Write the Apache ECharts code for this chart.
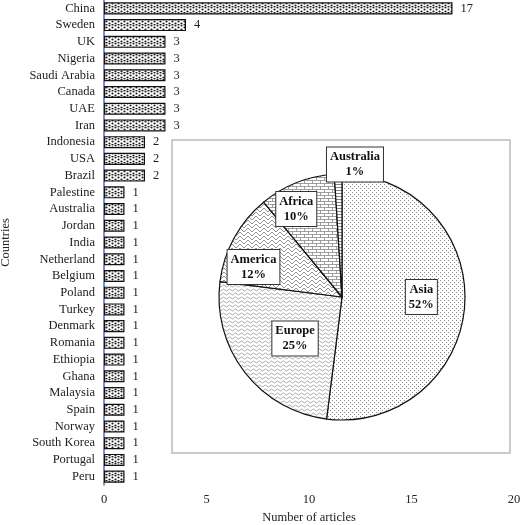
<!DOCTYPE html>
<html><head><meta charset="utf-8">
<script src="https://cdn.jsdelivr.net/npm/echarts@6/dist/echarts.min.js"></script>
<style>html,body{margin:0;padding:0;background:#fff}#c{width:520px;height:525px}</style>
</head><body><div id="c"></div>
<script>
const countries = ["China","Sweden","UK","Nigeria","Saudi Arabia","Canada","UAE","Iran","Indonesia","USA","Brazil","Palestine","Australia","Jordan","India","Netherland","Belgium","Poland","Turkey","Denmark","Romania","Ethiopia","Ghana","Malaysia","Spain","Norway","South Korea","Portugal","Peru"];
const articles = [17,4,3,3,3,3,3,3,2,2,2,1,1,1,1,1,1,1,1,1,1,1,1,1,1,1,1,1,1];
const regions = ["Asia","Europe","America","Africa","Australia"];
const regionPct = [52,25,12,10,1];
const xTicks = [0,5,10,15,20];

function pat(draw, w, h){
  const c=document.createElement('canvas');c.width=w;c.height=h;
  const g=c.getContext('2d');g.fillStyle='#fff';g.fillRect(0,0,w,h);g.fillStyle='#222';g.strokeStyle='#555';g.lineWidth=0.8;
  draw(g);return {image:c,repeat:'repeat'};
}
const dots = pat(g=>{[[1,1],[4,3],[1,5],[4,0]].forEach(([x,y])=>{g.beginPath();g.arc(x+0.5,y+0.5,1.1,0,7);g.fill();});},6,6);
const asiaP = pat(g=>{g.fillStyle='#888';[[0,0],[2,2]].forEach(([x,y])=>g.fillRect(x,y,1,1));},4,4);
const euroP = pat(g=>{g.strokeStyle='#999';g.beginPath();g.moveTo(0,2);g.quadraticCurveTo(1.5,0,3,2);g.quadraticCurveTo(4.5,4,6,2);g.stroke();},6,4);
const amerP = pat(g=>{g.strokeStyle='#777';g.beginPath();g.moveTo(0,0);g.lineTo(4,4);g.lineTo(8,0);g.moveTo(0,4);g.lineTo(4,8);g.lineTo(8,4);g.stroke();},8,8);
const afrP = pat(g=>{g.strokeStyle='#888';g.beginPath();g.moveTo(0,0.5);g.lineTo(8,0.5);g.moveTo(0,3.5);g.lineTo(8,3.5);g.moveTo(0.5,0);g.lineTo(0.5,3.5);g.moveTo(4.5,3.5);g.lineTo(4.5,6);g.stroke();},8,6);
const ausP = pat(g=>{g.strokeStyle='#666';g.beginPath();g.moveTo(0,1.5);g.lineTo(4,1.5);g.stroke();},4,3);
const pieFills=[asiaP,euroP,amerP,afrP,ausP];
const labelOffsets=[[15,-4],[4,2],[-32,1],[-22,-28],[15,-68]];

const ch=echarts.init(document.getElementById('c'));
ch.setOption({
  animation:false,
  textStyle:{fontFamily:'Liberation Serif'},
  grid:{left:104,right:6,top:0,bottom:40,containLabel:false,outerBoundsMode:'none'},
  xAxis:{type:'value',min:0,max:20,interval:5,
    name:'Number of articles',nameLocation:'middle',nameGap:22,nameTextStyle:{fontSize:12.5,color:'#222',fontFamily:'Liberation Serif'},
    axisLabel:{fontSize:12.5,color:'#222',fontFamily:'Liberation Serif'},splitLine:{show:false},axisLine:{show:false},axisTick:{show:false}},
  yAxis:{type:'category',data:countries,inverse:true,
    name:'Countries',nameLocation:'middle',nameGap:92,nameRotate:90,nameTextStyle:{fontSize:12.5,color:'#222',fontFamily:'Liberation Serif'},
    axisLabel:{fontSize:12.5,color:'#222',fontFamily:'Liberation Serif',interval:0,margin:9},
    axisLine:{lineStyle:{color:'#4472c4',width:1.5}},axisTick:{show:false}},
  graphic:[{type:'rect',shape:{x:172,y:140,width:338,height:313},style:{fill:'#fff',stroke:'#bbb',lineWidth:1.5},z:5}],
  series:[
    {type:'bar',data:articles,barWidth:'72%',itemStyle:{color:dots,borderColor:'#111',borderWidth:1.2},
     label:{show:true,position:'right',distance:8,fontSize:12.5,color:'#222',fontFamily:'Liberation Serif'}},
    {type:'pie',center:[342,297],radius:123,startAngle:90,clockwise:true,z:10,
     data:regions.map((r,i)=>({name:r,value:regionPct[i],itemStyle:{color:pieFills[i]},label:{offset:labelOffsets[i]}})),
     itemStyle:{borderColor:'#111',borderWidth:1.2},
     labelLine:{show:false},labelLayout:{hideOverlap:false},
     label:{position:'inside',formatter:'{b}\n{c}%',fontWeight:'bold',fontSize:12.5,color:'#111',fontFamily:'Liberation Serif',
       backgroundColor:'#fff',borderColor:'#333',borderWidth:1,padding:[2,3],lineHeight:15}}
  ]
});
</script></body></html>
